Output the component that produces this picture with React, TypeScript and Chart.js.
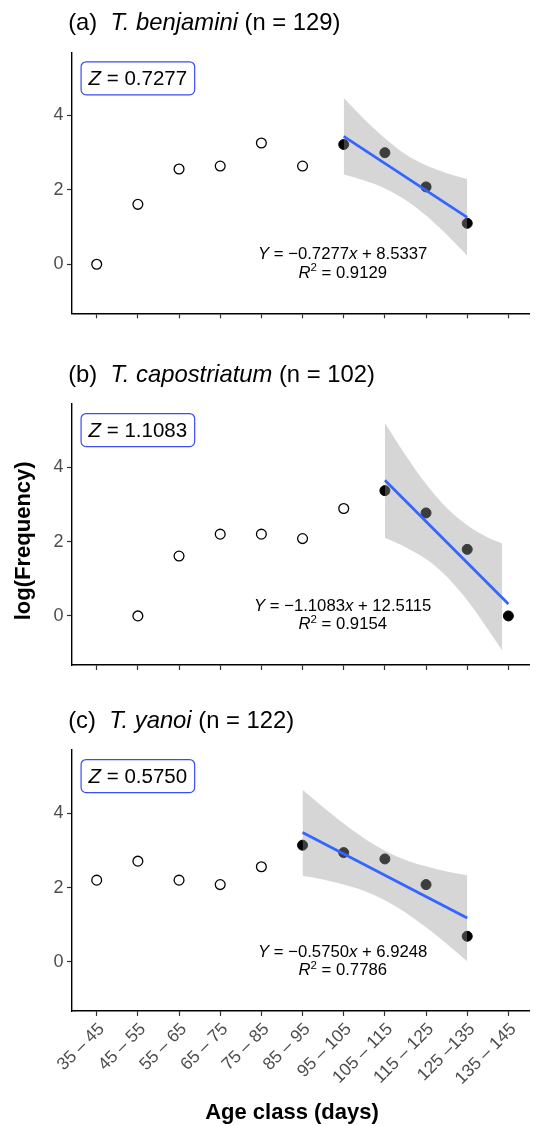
import React, { useEffect, useRef } from 'react';
import { Chart, registerables } from 'chart.js';

Chart.register(...registerables);

const FAMILY = "'Liberation Sans', Arial, Helvetica, sans-serif";

// ---------- shared axis data ----------
const CATEGORIES = [
  '35 – 45', '45 – 55', '55 – 65', '65 – 75', '75 – 85', '85 – 95',
  '95 – 105', '105 – 115', '115 – 125', '125 –135', '135 – 145',
];
const X_TICKS = [1, 2, 3, 4, 5, 6, 7, 8, 9, 10, 11];
const Y_TICKS = [0, 2, 4];
const X_MIN = 0.4;
const X_MAX = 11.52;
const Y_MIN = -1.32;
const Y_MAX = 5.7;

// ---------- panel (a) T. benjamini ----------
const A_OPEN_X = [1, 2, 3, 4, 5, 6];
const A_OPEN_Y = [0, 1.61, 2.56, 2.64, 3.26, 2.64];
const A_FILLED_X = [7, 8, 9, 10];
const A_FILLED_Y = [3.22, 3.0, 2.08, 1.1];
const A_FIT_X = [7, 10];
const A_FIT_Y = [3.44, 1.26];
const A_BAND_X = [7, 7.5, 8, 8.5, 9, 9.5, 10];
const A_BAND_UPPER = [4.47, 3.9, 3.39, 2.96, 2.66, 2.45, 2.29];
const A_BAND_LOWER = [2.41, 2.25, 2.04, 1.73, 1.31, 0.8, 0.23];

// ---------- panel (b) T. capostriatum ----------
const B_OPEN_X = [2, 3, 4, 5, 6, 7];
const B_OPEN_Y = [0, 1.61, 2.2, 2.2, 2.08, 2.89];
const B_FILLED_X = [8, 9, 10, 11];
const B_FILLED_Y = [3.37, 2.77, 1.79, 0];
const B_FIT_X = [8, 11];
const B_FIT_Y = [3.65, 0.32];
const B_BAND_X = [8, 8.5, 9, 9.5, 10, 10.5, 10.85];
const B_BAND_UPPER = [5.19, 4.33, 3.55, 2.91, 2.44, 2.11, 1.95];
const B_BAND_LOWER = [2.1, 1.85, 1.53, 1.06, 0.42, -0.36, -0.93];

// ---------- panel (c) T. yanoi ----------
const C_OPEN_X = [1, 2, 3, 4, 5];
const C_OPEN_Y = [2.2, 2.71, 2.2, 2.08, 2.56];
const C_FILLED_X = [6, 7, 8, 9, 10];
const C_FILLED_Y = [3.14, 2.94, 2.77, 2.08, 0.69];
const C_FIT_X = [6, 10];
const C_FIT_Y = [3.48, 1.18];
const C_BAND_X = [6, 6.5, 7, 7.5, 8, 8.5, 9, 9.5, 10];
const C_BAND_UPPER = [4.63, 4.16, 3.72, 3.32, 2.99, 2.74, 2.57, 2.43, 2.33];
const C_BAND_LOWER = [2.32, 2.22, 2.08, 1.91, 1.66, 1.33, 0.93, 0.49, 0.02];

// ---------- text ----------
const TAGS = ['(a)', '(b)', '(c)'];
const SPECIES = ['T. benjamini', 'T. capostriatum', 'T. yanoi'];
const N_VALUES = ['129', '102', '122'];
const Z_VALUES = ['0.7277', '1.1083', '0.5750'];
const SLOPES = ['−0.7277', '−1.1083', '−0.5750'];
const INTERCEPTS = ['8.5337', '12.5115', '6.9248'];
const R2_VALUES = ['0.9129', '0.9154', '0.7786'];
const Y_TITLE = 'log(Frequency)';
const X_TITLE = 'Age class (days)';

// label anchors (data coordinates)
const Z_LABEL_AT = { x: 2, y: 5 };
const EQ_LABEL_AT = { x: 7, y: 0 };

type Seg = { t: string; italic?: boolean; bold?: boolean; size?: number; dy?: number };

function fontOf(s: Seg, size: number) {
  return `${s.italic ? 'italic ' : ''}${s.bold ? 'bold ' : ''}${s.size ?? size}px ${FAMILY}`;
}

function drawSegs(ctx: CanvasRenderingContext2D, segs: Seg[], x: number, y: number, size: number, align: 'left' | 'center', color = '#000') {
  ctx.save();
  ctx.textBaseline = 'alphabetic';
  ctx.textAlign = 'left';
  ctx.fillStyle = color;
  const widths = segs.map((s) => {
    ctx.font = fontOf(s, size);
    return ctx.measureText(s.t).width;
  });
  const total = widths.reduce((a, b) => a + b, 0);
  let cx = align === 'center' ? x - total / 2 : x;
  segs.forEach((s, i) => {
    ctx.font = fontOf(s, size);
    ctx.fillText(s.t, cx, y + (s.dy ?? 0));
    cx += widths[i];
  });
  ctx.restore();
  return total;
}

type PanelData = {
  idx: number;
  openX: number[]; openY: number[];
  filledX: number[]; filledY: number[];
  fitX: number[]; fitY: number[];
  bandX: number[]; bandUpper: number[]; bandLower: number[];
};

const PANELS: PanelData[] = [
  { idx: 0, openX: A_OPEN_X, openY: A_OPEN_Y, filledX: A_FILLED_X, filledY: A_FILLED_Y, fitX: A_FIT_X, fitY: A_FIT_Y, bandX: A_BAND_X, bandUpper: A_BAND_UPPER, bandLower: A_BAND_LOWER },
  { idx: 1, openX: B_OPEN_X, openY: B_OPEN_Y, filledX: B_FILLED_X, filledY: B_FILLED_Y, fitX: B_FIT_X, fitY: B_FIT_Y, bandX: B_BAND_X, bandUpper: B_BAND_UPPER, bandLower: B_BAND_LOWER },
  { idx: 2, openX: C_OPEN_X, openY: C_OPEN_Y, filledX: C_FILLED_X, filledY: C_FILLED_Y, fitX: C_FIT_X, fitY: C_FIT_Y, bandX: C_BAND_X, bandUpper: C_BAND_UPPER, bandLower: C_BAND_LOWER },
];

const LAYOUTS = [
  { top: 0, height: 330, padTop: 52.3, xAxisHeight: 16.7, showX: false },
  { top: 330, height: 352, padTop: 74, xAxisHeight: 17, showX: false },
  { top: 682, height: 444, padTop: 68, xAxisHeight: 115, showX: true },
];

const toPts = (xs: number[], ys: number[]) => xs.map((x, i) => ({ x, y: ys[i] }));

function Panel({ panel }: { panel: PanelData }) {
  const ref = useRef<HTMLCanvasElement>(null);
  const lay = LAYOUTS[panel.idx];

  useEffect(() => {
    if (!ref.current) return;
    const i = panel.idx;
    const annot = {
      id: 'annot' + i,
      afterDraw(chart: any) {
        const ctx: CanvasRenderingContext2D = chart.ctx;
        const xs = chart.scales.x;
        const ys = chart.scales.y;
        const area = chart.chartArea;

        // panel title
        drawSegs(ctx, [
          { t: TAGS[i] }, { t: '  ' }, { t: SPECIES[i], italic: true }, { t: ` (n = ${N_VALUES[i]})` },
        ], 68.2, area.top - 22, 23.8, 'left');

        // Z label box
        const zx = xs.getPixelForValue(Z_LABEL_AT.x);
        const zy = ys.getPixelForValue(Z_LABEL_AT.y);
        const zSegs: Seg[] = [{ t: 'Z', italic: true }, { t: ` = ${Z_VALUES[i]}` }];
        ctx.save();
        let zw = 0;
        zSegs.forEach((s) => { ctx.font = fontOf(s, 20.5); zw += ctx.measureText(s.t).width; });
        const bw = zw + 15;
        const bh = 33;
        ctx.beginPath();
        (ctx as any).roundRect(zx - bw / 2, zy - bh / 2, bw, bh, 5);
        ctx.fillStyle = '#ffffff';
        ctx.fill();
        ctx.lineWidth = 1.2;
        ctx.strokeStyle = '#3a4cf2';
        ctx.stroke();
        ctx.restore();
        drawSegs(ctx, zSegs, zx, zy + 7, 20.5, 'center');

        // regression equation
        const ex = xs.getPixelForValue(EQ_LABEL_AT.x);
        const ey = ys.getPixelForValue(EQ_LABEL_AT.y);
        drawSegs(ctx, [
          { t: 'Y', italic: true }, { t: ` = ${SLOPES[i]}` }, { t: 'x', italic: true }, { t: ` + ${INTERCEPTS[i]}` },
        ], ex - 1, ey - 5, 16.7, 'center');
        drawSegs(ctx, [
          { t: 'R', italic: true }, { t: '2', size: 11.5, dy: -6.5 }, { t: ` = ${R2_VALUES[i]}` },
        ], ex - 1, ey + 13.5, 16.7, 'center');

        if (i === 1) {
          ctx.save();
          ctx.translate(23.5, 540.8 - lay.top);
          ctx.rotate(-Math.PI / 2);
          ctx.font = `bold 22px ${FAMILY}`;
          ctx.fillStyle = '#000';
          ctx.textAlign = 'center';
          ctx.textBaseline = 'middle';
          ctx.fillText(Y_TITLE, 0, 0);
          ctx.restore();
        }
        if (i === 2) {
          ctx.save();
          ctx.font = `bold 22px ${FAMILY}`;
          ctx.fillStyle = '#000';
          ctx.textAlign = 'center';
          ctx.textBaseline = 'alphabetic';
          ctx.fillText(X_TITLE, 292, 1119 - lay.top);
          ctx.restore();
        }
      },
    };

    const chart = new Chart(ref.current, {
      type: 'scatter',
      data: {
        datasets: [
          {
            type: 'line', data: toPts(panel.fitX, panel.fitY), borderColor: '#3366FF', borderWidth: 2.7,
            pointRadius: 0, fill: false, order: 0,
          } as any,
          {
            type: 'line', data: toPts(panel.bandX, panel.bandUpper), borderColor: 'rgba(0,0,0,0)', borderWidth: 0,
            backgroundColor: 'rgba(153,153,153,0.4)', pointRadius: 0, fill: '+1', cubicInterpolationMode: 'monotone', order: 1,
          } as any,
          {
            type: 'line', data: toPts(panel.bandX, panel.bandLower), borderColor: 'rgba(0,0,0,0)', borderWidth: 0,
            pointRadius: 0, fill: false, cubicInterpolationMode: 'monotone', order: 1,
          } as any,
          {
            type: 'scatter', data: toPts(panel.openX, panel.openY), pointRadius: 4.9, pointBorderWidth: 1.3,
            pointBorderColor: '#000', pointBackgroundColor: 'rgba(0,0,0,0)', order: 2,
          } as any,
          {
            type: 'scatter', data: toPts(panel.filledX, panel.filledY), pointRadius: 5, pointBorderWidth: 1,
            pointBorderColor: '#000', pointBackgroundColor: '#000', order: 2,
          } as any,
        ],
      },
      options: {
        responsive: false,
        animation: false,
        devicePixelRatio: 1,
        layout: { padding: { top: lay.padTop, left: 0, right: 0, bottom: 0 } },
        plugins: { legend: { display: false }, title: { display: false }, tooltip: { enabled: false } },
        scales: {
          x: {
            type: 'linear', min: X_MIN, max: X_MAX,
            afterBuildTicks: (s: any) => { s.ticks = X_TICKS.map((v) => ({ value: v })); },
            afterFit: (s: any) => { s.height = lay.xAxisHeight; s.paddingLeft = 0; s.paddingRight = 0; },
            grid: { display: true, drawOnChartArea: false, drawTicks: true, tickLength: 5, tickWidth: 1.2, tickColor: '#333333' },
            border: { display: true, color: '#000000', width: 1.4 },
            ticks: {
              display: lay.showX, autoSkip: false, minRotation: 45, maxRotation: 45, padding: 3, labelOffset: 5,
              font: { family: FAMILY, size: 17.5 }, color: '#4d4d4d',
              callback: (v: any) => CATEGORIES[Math.round(v) - 1] ?? '',
            },
          },
          y: {
            type: 'linear', min: Y_MIN, max: Y_MAX,
            afterBuildTicks: (s: any) => { s.ticks = Y_TICKS.map((v) => ({ value: v })); },
            afterFit: (s: any) => { s.width = 72; s.paddingTop = 0; s.paddingBottom = 0; },
            grid: { display: true, drawOnChartArea: false, drawTicks: true, tickLength: 5, tickWidth: 1.2, tickColor: '#333333' },
            border: { display: true, color: '#000000', width: 1.4 },
            ticks: { font: { family: FAMILY, size: 18 }, color: '#4d4d4d', padding: 3.5, callback: (v: any) => String(v) },
          },
        },
      },
      plugins: [annot],
    } as any);
    return () => chart.destroy();
  }, [panel]);

  return (
    <canvas
      ref={ref}
      width={536}
      height={lay.height}
      style={{ position: 'absolute', left: 0, top: lay.top, width: 536, height: lay.height, display: 'block' }}
    />
  );
}

export default function App() {
  return (
    <div style={{ position: 'absolute', left: 0, top: 0, width: 536, height: 1126, background: '#ffffff', overflow: 'hidden' }}>
      {PANELS.map((p) => <Panel key={p.idx} panel={p} />)}
    </div>
  );
}
